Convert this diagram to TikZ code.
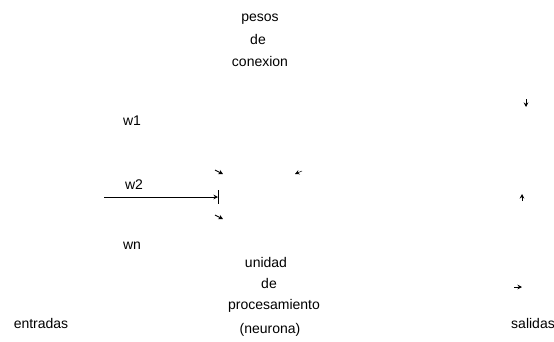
\documentclass[tikz,border=0pt]{standalone}
\usepackage{fontspec}
\setmainfont{Liberation Sans}
\usetikzlibrary{arrows.meta}
\begin{document}
\begin{tikzpicture}[x=1pt,y=-1pt,font=\fontsize{14}{16}\selectfont,
  lbl/.style={inner sep=0pt},
  stub/.style={-{Stealth[length=4.5pt,width=4.5pt]},line width=0.9pt}]
\useasboundingbox (0,0) rectangle (554,341);
\node[lbl] (pesos) at (260,19) {pesos};
\node[lbl] (pde) at (258,39) {de};
\node[lbl] (conexion) at (260,61) {conexion};
\node[lbl] (w1) at (132,121) {w1};
\node[lbl] (w2) at (134,185) {w2};
\node[lbl] (wn) at (132,246) {wn};
\node[lbl] (unidad) at (266,262) {unidad};
\node[lbl] (ude) at (269,283) {de};
\node[lbl] (proc) at (274,306) {procesamiento};
\node[lbl] (neurona) at (270,330) {(neurona)};
\node[lbl] (entradas) at (41,323) {entradas};
\node[lbl] (salidas) at (533,323) {salidas};
% entrada w2
\coordinate (in2) at (104,197);
\coordinate (sum2) at (218,197);
\draw[stub] (in2) -- (sum2);
\draw[line width=0.7pt] (218,190) -- (218,204);
% trozos de flechas
\coordinate (a1) at (215,170); \coordinate (b1) at (223,174);
\coordinate (a2) at (215,215); \coordinate (b2) at (223,219);
\coordinate (a3) at (302,171); \coordinate (b3) at (295,174);
\coordinate (a4) at (526,99);  \coordinate (b4) at (526,107);
\coordinate (a5) at (522,201); \coordinate (b5) at (522,194);
\coordinate (a6) at (514,287); \coordinate (b6) at (522,287);
\draw[stub] (a1) -- (b1);
\draw[stub] (a2) -- (b2);
\draw[stub,line width=0.5pt] (a3) -- (b3);
\draw[stub] (a4) -- (b4);
\draw[stub] (a5) -- (b5);
\draw[stub] (a6) -- (b6);
\end{tikzpicture}
\end{document}
